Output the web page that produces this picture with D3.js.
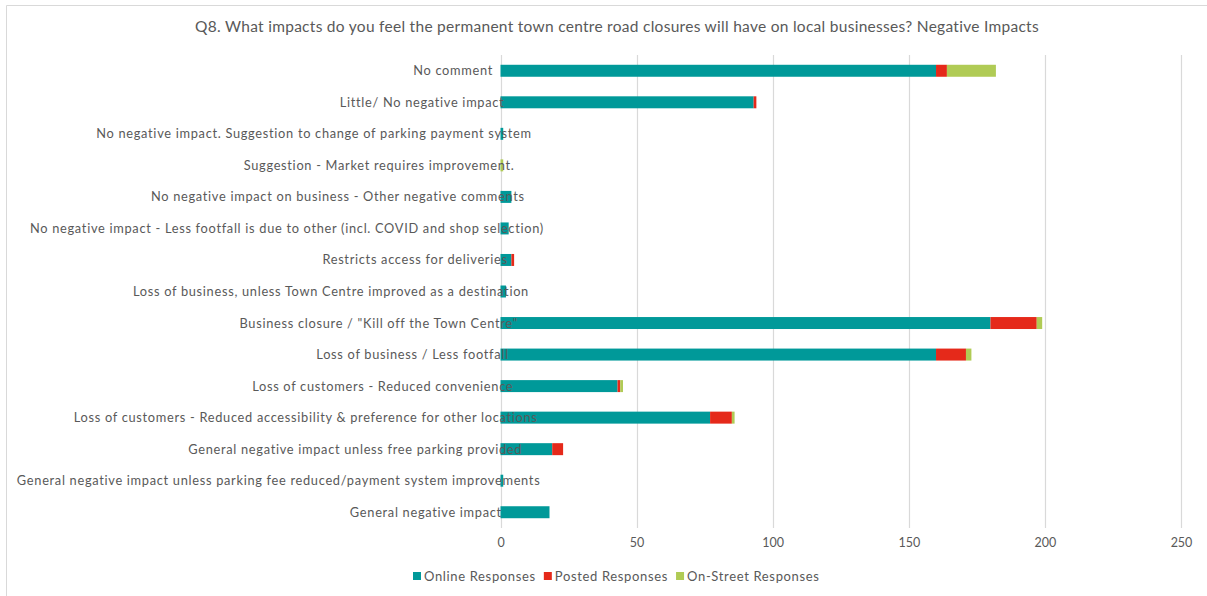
<!DOCTYPE html>
<html>
<head>
<meta charset="utf-8">
<script src="https://cdn.jsdelivr.net/npm/d3@7"></script>
<style>
  html, body { margin: 0; padding: 0; background: #fff; }
  svg { display: block; }
  text { font-family: Lato, "Open Sans", sans-serif; fill: #595959; }
</style>
</head>
<body>
<svg id="chart" width="1207" height="596"></svg>
<script>
// Survey answers, top to bottom
const categories = [
  "No comment",
  "Little/ No negative impact",
  "No negative impact. Suggestion to change of parking payment system",
  "Suggestion - Market requires improvement.",
  "No negative impact on business - Other negative comments",
  "No negative impact - Less footfall is due to other (incl. COVID and shop selection)",
  "Restricts access for deliveries",
  "Loss of business, unless Town Centre improved as a destination",
  "Business closure / \"Kill off the Town Centre\"",
  "Loss of business / Less footfall",
  "Loss of customers - Reduced convenience",
  "Loss of customers - Reduced accessibility & preference for other locations",
  "General negative impact unless free parking provided",
  "General negative impact unless parking fee reduced/payment system improvements",
  "General negative impact"
];
const online  = [160, 93, 1, 0, 4, 3, 4, 2, 180, 160, 43, 77, 19, 1, 18];
const posted  = [4,   1,  0, 0, 0, 0, 1, 0, 17,  11,  1,  8,  4,  0, 0];
const street  = [18,  0,  0, 1, 0, 0, 0, 0, 2,   2,   1,  1,  0,  0, 0];
const seriesNames = ["Online Responses", "Posted Responses", "On-Street Responses"];
const seriesColors = ["#009999", "#e5291a", "#b0cb55"];
const xTicks = [0, 50, 100, 150, 200, 250];
const title = "Q8. What impacts do you feel the permanent town centre road closures will have on local businesses? Negative Impacts";

const svg = d3.select("#chart");

// frame edges
svg.append("line").attr("x1", 6.5).attr("x2", 1207).attr("y1", 5.5).attr("y2", 5.5)
  .attr("stroke", "#d9d9d9").attr("stroke-width", 1);
svg.append("line").attr("x1", 6.5).attr("x2", 6.5).attr("y1", 5.5).attr("y2", 596)
  .attr("stroke", "#d9d9d9").attr("stroke-width", 1);

const x = d3.scaleLinear().domain([0, 250]).range([500.5, 1181]);
const y = d3.scaleBand().domain(categories).range([55, 528]).paddingInner(0.62).paddingOuter(0.31);

// vertical gridlines
svg.append("g").selectAll("line").data(xTicks).join("line")
  .attr("x1", d => Math.round(x(d)) + 0.5).attr("x2", d => Math.round(x(d)) + 0.5)
  .attr("y1", 55).attr("y2", 528)
  .attr("stroke", "#d9d9d9").attr("stroke-width", 1.2);

// tick labels
const xAxis = d3.axisBottom(x).tickValues(xTicks).tickSize(0).tickPadding(0);
const gx = svg.append("g").attr("transform", "translate(0,538)").call(xAxis);
gx.select(".domain").remove();
gx.selectAll("text").attr("font-size", 12.5).attr("dy", "0.71em")
  .style("font-family", "Lato, sans-serif").attr("fill", "#595959");

// stacked bars
const rows = categories.map((c, i) => ({ cat: c, v: [online[i], posted[i], street[i]] }));
const stack = d3.stack().keys([0, 1, 2]).value((d, k) => d.v[k]);
const layers = stack(rows);

const barG = svg.append("g");
layers.forEach((layer, k) => {
  barG.append("g").attr("fill", seriesColors[k])
    .selectAll("rect").data(layer.filter(d => d[1] > d[0])).join("rect")
    .attr("x", d => x(d[0]))
    .attr("width", d => x(d[1]) - x(d[0]))
    .attr("y", d => y(d.data.cat))
    .attr("height", y.bandwidth());
});

// category labels: positioned from their unspaced width, then drawn with wide tracking
const labelG = svg.append("g");
const anchorX = 486;
labelG.selectAll("text").data(categories).join("text")
  .attr("font-size", 12.8)
  .attr("y", d => y(d) + y.bandwidth() / 2)
  .attr("dy", "0.35em")
  .text(d => d)
  .each(function () {
    const w = this.getComputedTextLength();
    d3.select(this).attr("x", anchorX - w).style("letter-spacing", "0.7px");
  });

// title
svg.append("text").attr("x", 617).attr("y", 32).attr("text-anchor", "middle")
  .attr("font-size", 15.5).style("letter-spacing", "0.28px").text(title);

// legend
const legend = svg.append("g");
let lx = 413;
seriesNames.forEach((name, k) => {
  legend.append("rect").attr("x", lx).attr("y", 572).attr("width", 8).attr("height", 8)
    .attr("fill", seriesColors[k]);
  const t = legend.append("text").attr("x", lx + 11).attr("y", 576).attr("dy", "0.35em")
    .attr("font-size", 13).style("letter-spacing", "0.65px").text(name);
  lx += 11 + t.node().getComputedTextLength() + 8;
});
</script>
</body>
</html>
